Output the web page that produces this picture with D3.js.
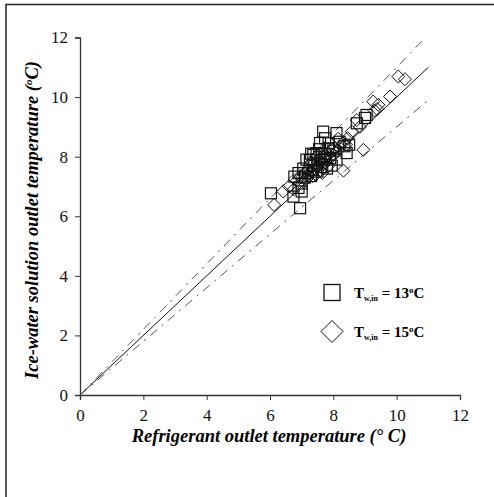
<!DOCTYPE html>
<html>
<head>
<meta charset="utf-8">
<script src="https://cdn.jsdelivr.net/npm/d3@7"></script>
<style>
  body { margin: 0; background: #fff; }
  svg text { font-family: "Liberation Serif", "Times New Roman", "DejaVu Serif", serif; }
</style>
</head>
<body>
<div id="chart"></div>
<script>
// Ticks on both axes
var xTicks = [0, 2, 4, 6, 8, 10, 12];
var yTicks = [0, 2, 4, 6, 8, 10, 12];

// T_w,in = 13 C  (squares)  [refrigerant, ice-water]
var seriesSquare = [
  [6.03, 6.77], [6.74, 6.66], [6.95, 6.27], [7.0, 6.83], [6.77, 7.33],
  [6.9, 7.45], [7.05, 7.6], [7.15, 7.9], [7.26, 7.89], [7.3, 8.1],
  [7.37, 8.06], [7.47, 8.12], [7.58, 8.46], [7.68, 8.84], [7.74, 8.62],
  [7.84, 8.28], [7.6, 8.0], [7.4, 7.7], [7.2, 7.45], [7.1, 7.3],
  [7.35, 7.55], [7.5, 7.8], [7.7, 7.9], [7.9, 7.95], [8.0, 8.2],
  [8.1, 8.79], [8.2, 8.5], [8.42, 8.12], [8.35, 8.35], [8.1, 7.9],
  [7.95, 7.7], [7.8, 7.6], [7.5, 7.5], [7.3, 7.35], [7.0, 7.1],
  [6.9, 6.95], [8.74, 9.12], [9.05, 9.4], [9.0, 9.3], [7.55, 8.25],
  [7.75, 8.1], [8.5, 8.4], [7.65, 7.65], [7.85, 8.45]
];

// T_w,in = 15 C  (diamonds)
var seriesDiamond = [
  [6.13, 6.38], [6.42, 6.83], [6.6, 7.0], [6.75, 6.9], [6.85, 7.2],
  [7.0, 7.3], [7.1, 7.45], [7.2, 7.55], [7.3, 7.5], [7.4, 7.6],
  [7.45, 7.4], [7.5, 7.65], [7.6, 7.55], [7.7, 7.75], [7.8, 7.85],
  [7.9, 8.0], [8.0, 8.05], [8.1, 8.15], [8.2, 8.3], [8.3, 8.45],
  [8.45, 8.62], [8.58, 8.84], [8.74, 9.23], [8.84, 9.0], [8.95, 8.23],
  [8.32, 7.53], [9.26, 9.85], [9.42, 9.74], [9.3, 9.55], [9.38, 9.6],
  [9.79, 10.02], [10.05, 10.69], [10.26, 10.6], [7.25, 7.7], [7.35, 7.35],
  [7.55, 7.9], [7.65, 7.45], [7.15, 7.25], [7.05, 7.15], [7.75, 8.05],
  [7.85, 7.7], [8.05, 8.3], [8.15, 8.6], [8.4, 8.4], [7.95, 8.25],
  [7.3, 7.8], [6.95, 7.35], [7.45, 8.0], [7.6, 7.95]
];

// Reference lines: y = x and +/-10 %
var lineEnd = 11;
var factors = [1.0, 1.1, 0.9];

var W = 494, H = 497;
var serif = "'Liberation Serif', 'Times New Roman', 'DejaVu Serif', serif";

var svg = d3.select("#chart").append("svg")
  .attr("width", W)
  .attr("height", H);

// frame round the figure
svg.append("line").attr("x1", 6).attr("y1", 4.5).attr("x2", W).attr("y2", 4.5)
  .attr("stroke", "#222").attr("stroke-width", 1.5);
svg.append("line").attr("x1", 6).attr("y1", 4).attr("x2", 6).attr("y2", H)
  .attr("stroke", "#222").attr("stroke-width", 1.5);

var x = d3.scaleLinear().domain([0, 12]).range([80, 460]);
var y = d3.scaleLinear().domain([0, 12]).range([395, 37.5]);

// axes
var xAxis = svg.append("g")
  .attr("transform", "translate(0," + y(0) + ")")
  .call(d3.axisBottom(x).tickValues(xTicks).tickSize(5).tickPadding(9));
var yAxis = svg.append("g")
  .attr("transform", "translate(" + x(0) + ",0)")
  .call(d3.axisLeft(y).tickValues(yTicks).tickSize(5).tickPadding(7));

[xAxis, yAxis].forEach(function (ax) {
  ax.attr("font-family", null);
  ax.select(".domain").attr("stroke", "#333").attr("stroke-width", 1.3);
  ax.selectAll(".tick line").attr("stroke", "#333");
  ax.selectAll(".tick text")
    .style("font-family", serif)
    .style("font-size", "17px")
    .attr("fill", "#111");
});

// reference lines
factors.forEach(function (f) {
  var xe = f > 1 ? Math.min(lineEnd, 12 / f) : lineEnd;
  svg.append("line")
    .attr("x1", x(0)).attr("y1", y(0))
    .attr("x2", x(xe))
    .attr("y2", y(xe * f))
    .attr("stroke", f === 1 ? "#111" : "#555")
    .attr("stroke-width", 1)
    .attr("stroke-dasharray", f === 1 ? null : "9,6,2,6");
});

// squares
var sq = 11;
svg.append("g").selectAll("rect")
  .data(seriesSquare)
  .enter().append("rect")
  .attr("x", function (d) { return x(d[0]) - sq / 2; })
  .attr("y", function (d) { return y(d[1]) - sq / 2; })
  .attr("width", sq).attr("height", sq)
  .attr("fill", "none")
  .attr("stroke", "#111")
  .attr("stroke-width", 1.2);

// diamonds
var dm = 6.5;
var diamondPath = function (cx, cy, r) {
  return "M" + cx + "," + (cy - r) + "L" + (cx + r) + "," + cy +
    "L" + cx + "," + (cy + r) + "L" + (cx - r) + "," + cy + "Z";
};
svg.append("g").selectAll("path")
  .data(seriesDiamond)
  .enter().append("path")
  .attr("d", function (d) { return diamondPath(x(d[0]), y(d[1]), dm); })
  .attr("fill", "none")
  .attr("stroke", "#111")
  .attr("stroke-width", 1);

// axis titles
svg.append("text")
  .attr("x", 269).attr("y", 442)
  .attr("text-anchor", "middle")
  .style("font-family", serif)
  .style("font-size", "18.5px")
  .style("font-weight", "bold")
  .style("font-style", "italic")
  .text("Refrigerant outlet temperature (° C)");

var yt = svg.append("text")
  .attr("transform", "translate(38,220) rotate(-90)")
  .attr("text-anchor", "middle")
  .style("font-family", serif)
  .style("font-size", "18.5px")
  .style("font-weight", "bold")
  .style("font-style", "italic");
yt.append("tspan").text("Ice-water solution outlet temperature (");
yt.append("tspan").style("font-size", "11px").attr("dy", -6).text("o");
yt.append("tspan").attr("dy", 6).text("C)");

// legend
var legend = [
  { shape: "square", label: "13" },
  { shape: "diamond", label: "15" }
];
legend.forEach(function (item, i) {
  var cy = 292.5 + i * 39;
  if (item.shape === "square") {
    svg.append("rect")
      .attr("x", 324).attr("y", cy - 8)
      .attr("width", 16).attr("height", 16)
      .attr("fill", "none").attr("stroke", "#111").attr("stroke-width", 1.3);
  } else {
    svg.append("path")
      .attr("d", diamondPath(332, cy, 11))
      .attr("fill", "none").attr("stroke", "#111").attr("stroke-width", 1);
  }
  var t = svg.append("text")
    .attr("x", 354).attr("y", cy + 5)
    .style("font-family", serif)
    .style("font-size", "15px")
    .style("font-weight", "bold");
  t.append("tspan").text("T");
  t.append("tspan").style("font-size", "8px").attr("dy", 3).text("w,in");
  t.append("tspan").attr("dy", -3).text(" = " + item.label);
  t.append("tspan").style("font-size", "9px").attr("dy", -5).text("o");
  t.append("tspan").attr("dy", 5).text("C");
});
</script>
</body>
</html>
